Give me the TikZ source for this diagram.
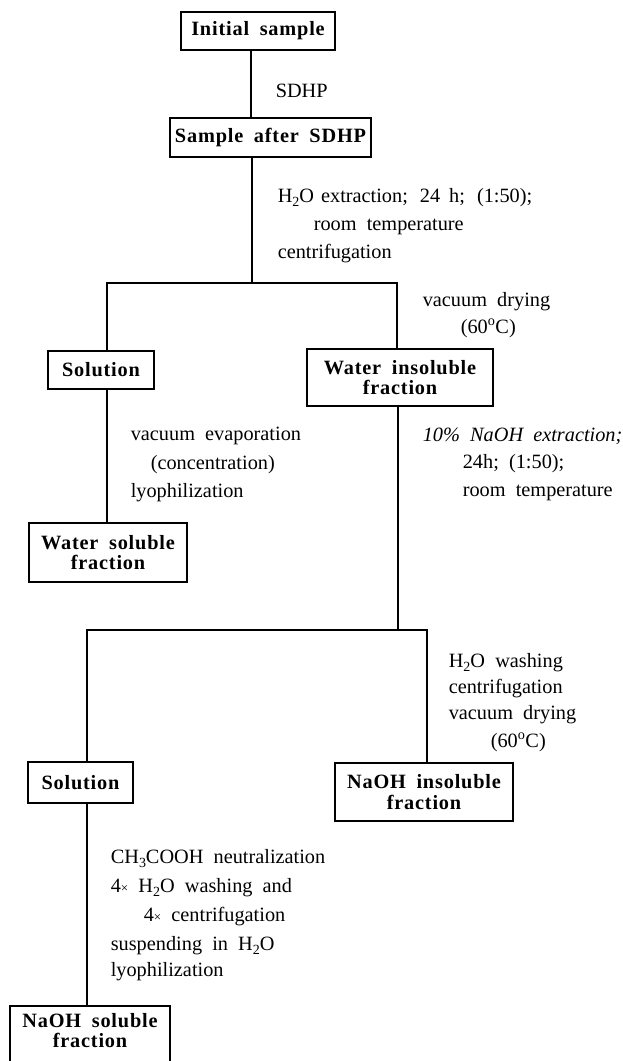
\documentclass[tikz,border=0pt]{standalone}
\usepackage{fontspec}
\setmainfont{Liberation Serif}
\newfontfamily\boxfont[LetterSpace=4,WordSpace=1.8]{Liberation Serif}
\newcommand{\lowtwo}[1]{\raisebox{-4.5pt}{\fontsize{14}{14}\selectfont #1}}
\newcommand{\smx}{{\fontsize{13}{13}\selectfont ×}}
\begin{document}
\begin{tikzpicture}[x=1pt,y=-1pt,
  line width=1.6pt,
  stepbox/.style={draw, line width=1.6pt, inner sep=0pt, align=center,
    font=\boxfont\bfseries\fontsize{20.3}{20.5}\selectfont},
  lbl/.style={anchor=base west, inner sep=0pt,
    font=\fontsize{20.3}{20.3}\selectfont},
  conn/.style={line width=1.5pt}]
\useasboundingbox (0,0) rectangle (623,1061);

% boxes
\node[stepbox, minimum width=154pt, minimum height=38pt] (init) at (258,31) {Initial sample};
\node[stepbox, minimum width=201pt, minimum height=39pt] (sdhp) at (270.5,137.5) {Sample after SDHP};
\node[stepbox, minimum width=106pt, minimum height=38pt] (sol1) at (101,370) {Solution};
\node[stepbox, minimum width=186pt, minimum height=57pt] (wins) at (400,377.5) {Water insoluble\\fraction};
\node[stepbox, minimum width=158pt, minimum height=59pt] (wsol) at (108,552.5) {Water soluble\\fraction};
\node[stepbox, minimum width=105pt, minimum height=41pt] (sol2) at (80.5,782.5) {Solution};
\node[stepbox, minimum width=178pt, minimum height=58pt] (nins) at (424,792) {NaOH insoluble\\fraction};
\node[stepbox, minimum width=160pt, minimum height=64pt, text depth=15pt, anchor=north] (nsol) at (90,1005) {NaOH soluble\\fraction};

% junction coordinates
\coordinate (c0) at (251,80);
\coordinate (j1) at (252,283);
\coordinate (j1l) at (107,283);
\coordinate (j1r) at (397,283);
\coordinate (j2) at (398,630);
\coordinate (j2l) at (87,630);
\coordinate (j2r) at (427,630);

% connectors
\draw[conn] (init.south -| c0) -- (sdhp.north -| c0);
\draw[conn] (sdhp.south -| j1) -- (j1);
\draw[conn] (sol1.north -| j1l) -- (j1l) -- (j1r) -- (wins.north -| j1r);
\draw[conn] (sol1.south -| j1l) -- (wsol.north -| j1l);
\draw[conn] (wins.south -| j2) -- (j2);
\draw[conn] (sol2.north -| j2l) -- (j2l) -- (j2r) -- (nins.north -| j2r);
\draw[conn] (sol2.south -| j2l) -- (nsol.north -| j2l);

% labels
\node[lbl] (t1) at (275,97) {SDHP};
\node[lbl] (t2) at (277,202) {H\lowtwo{2}O\hspace{7pt}extraction;\hspace{12pt}24\hspace{9pt}h;\hspace{12pt}(1:50);};
\node[lbl] (t3) at (313,230) {room\ \ temperature};
\node[lbl] (t4) at (277,258) {centrifugation};
\node[lbl] (t5) at (422,306) {vacuum\ \ drying};
\node[lbl] (t6) at (460,333) {(60\textsuperscript{o}C)};
\node[lbl] (t7) at (130,440) {vacuum\ \ evaporation};
\node[lbl] (t8) at (150,469) {(concentration)};
\node[lbl] (t9) at (130,497) {lyophilization};
\node[lbl] (t10) at (422,441) {\itshape 10\%\ \ NaOH\ \ extraction;};
\node[lbl] (t11) at (462,468) {24h;\ \ (1:50);};
\node[lbl] (t12) at (462,496) {room\ \ temperature};
\node[lbl] (t13) at (448,667) {H\lowtwo{2}O\ \ washing};
\node[lbl] (t14) at (448,693) {centrifugation};
\node[lbl] (t15) at (448,719) {vacuum\ \ drying};
\node[lbl] (t16) at (490,747) {(60\textsuperscript{o}C)};
\node[lbl] (t17) at (110,863) {CH\lowtwo{3}COOH\ \ neutralization};
\node[lbl] (t18) at (110,892) {4\smx\ \ H\lowtwo{2}O\ \ washing\ \ and};
\node[lbl] (t19) at (143,921) {4\smx\ \ centrifugation};
\node[lbl] (t20) at (110,950) {suspending\ \ in\ \ H\lowtwo{2}O};
\node[lbl] (t21) at (110,976) {lyophilization};
\end{tikzpicture}
\end{document}
